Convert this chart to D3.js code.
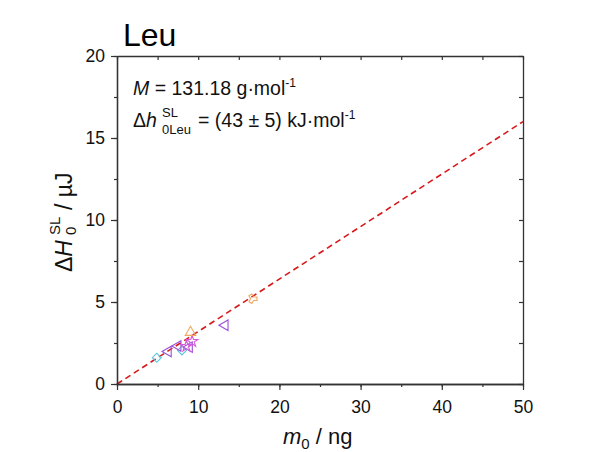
<!DOCTYPE html>
<html>
<head>
<meta charset="utf-8">
<script src="https://cdn.jsdelivr.net/npm/d3@7"></script>
<style>
  html, body { margin: 0; padding: 0; background: #fff; }
  svg { display: block; font-family: "Liberation Sans", Arial, sans-serif; }
</style>
</head>
<body>
<svg id="chart" width="600" height="452"></svg>
<script>
// Sample masses (ng) and enthalpies (µJ), one series per marker style
const cyanMass = [4.9, 8.0];
const cyanHeat = [1.6, 2.05];
const purpleMass = [6.3, 7.5, 8.9, 13.3];
const purpleHeat = [1.98, 2.32, 2.25, 3.58];
const magentaMass = [8.55, 9.25];
const magentaHeat = [2.3, 2.6];
const orangeUpMass = [9.05];
const orangeUpHeat = [3.15];
const orangeRightMass = [16.7];
const orangeRightHeat = [5.2];

// Proportional fit through the origin
const fitMass = [0, 50];
const fitHeat = [0, 16.0];

const xTicks = [0, 10, 20, 30, 40, 50];
const yTicks = [0, 5, 10, 15, 20];

const svg = d3.select("#chart");
const L = 117, R = 523, T = 56, B = 384;
const x = d3.scaleLinear().domain([0, 50]).range([L, R]);
const y = d3.scaleLinear().domain([0, 20]).range([B, T]);
const axisColor = "#333";
const textColor = "#111";

// Fit line
svg.append("path")
  .datum(fitMass.map((m, i) => [m, fitHeat[i]]))
  .attr("d", d3.line().x(d => x(d[0])).y(d => y(d[1])))
  .attr("fill", "none")
  .attr("stroke", "#d7191c")
  .attr("stroke-width", 1.6)
  .attr("stroke-dasharray", "6,4");

// Marker series
const tri = d3.symbol().type(d3.symbolTriangle).size(48)();
const series = [
  { mass: cyanMass, heat: cyanHeat, color: "#5ac6dd", path: d3.symbol().type(d3.symbolSquare).size(40)(), rot: 45 },
  { mass: purpleMass, heat: purpleHeat, color: "#9b4fd8", path: tri, rot: -90 },
  { mass: magentaMass, heat: magentaHeat, color: "#d45ad8", path: d3.symbol().type(d3.symbolStar).size(40)(), rot: 0 },
  { mass: orangeUpMass, heat: orangeUpHeat, color: "#f0a860", path: tri, rot: 0 },
  { mass: orangeRightMass, heat: orangeRightHeat, color: "#f0a860", path: d3.symbol().type(d3.symbolWye).size(40)(), rot: -90 }
];
series.forEach(s => {
  svg.append("g").selectAll("path")
    .data(s.mass.map((m, i) => [m, s.heat[i]]))
    .join("path")
    .attr("d", s.path)
    .attr("transform", d => `translate(${x(d[0])},${y(d[1])}) rotate(${s.rot})`)
    .attr("fill", "none")
    .attr("stroke", s.color)
    .attr("stroke-width", 1.1);
});

// Axes: bottom/left ticks outward, top/right ticks inward
function styleAxis(g) {
  g.select(".domain").attr("stroke", axisColor).attr("stroke-width", 1.3);
  g.selectAll(".tick line").attr("stroke", axisColor).attr("stroke-width", 1.2);
  g.selectAll("text").attr("font-size", 17.5).attr("fill", textColor)
    .attr("font-family", "Liberation Sans, Arial, sans-serif");
}
const xMinor = d3.range(0, 51, 5);
const yMinor = d3.range(0, 20.1, 2.5);

svg.append("g").attr("transform", `translate(0,${B})`)
  .call(d3.axisBottom(x).tickValues(xMinor).tickSize(3).tickFormat("").tickSizeOuter(0))
  .call(styleAxis);
svg.append("g").attr("transform", `translate(0,${B})`)
  .call(d3.axisBottom(x).tickValues(xTicks).tickSize(6).tickPadding(11).tickFormat(d3.format("d")).tickSizeOuter(0))
  .call(styleAxis);
svg.append("g").attr("transform", `translate(${L},0)`)
  .call(d3.axisLeft(y).tickValues(yMinor).tickSize(3).tickFormat("").tickSizeOuter(0))
  .call(styleAxis);
svg.append("g").attr("transform", `translate(${L},0)`)
  .call(d3.axisLeft(y).tickValues(yTicks).tickSize(6).tickPadding(6).tickFormat(d3.format("d")).tickSizeOuter(0))
  .call(styleAxis);
svg.append("g").attr("transform", `translate(0,${T})`)
  .call(d3.axisTop(x).tickValues(xMinor).tickSize(-4).tickFormat("").tickSizeOuter(0))
  .call(styleAxis);
svg.append("g").attr("transform", `translate(${R},0)`)
  .call(d3.axisRight(y).tickValues(yMinor).tickSize(-4).tickFormat("").tickSizeOuter(0))
  .call(styleAxis);

// Title
svg.append("text").attr("x", 123).attr("y", 46)
  .attr("font-size", 32).attr("fill", "#000").text("Leu");

// Annotations
const ann1 = svg.append("text").attr("x", 133).attr("y", 95).attr("font-size", 19.5).attr("fill", textColor);
ann1.append("tspan").attr("font-style", "italic").text("M");
ann1.append("tspan").text(" = 131.18 g\u00b7mol");
ann1.append("tspan").attr("font-size", 12).attr("dy", -8).text("-1");

const ann2 = svg.append("text").attr("x", 133).attr("y", 127).attr("font-size", 19.5).attr("fill", textColor);
ann2.append("tspan").text("\u0394");
ann2.append("tspan").attr("font-style", "italic").text("h");
svg.append("text").attr("x", 162).attr("y", 117).attr("font-size", 13).attr("fill", textColor).text("SL");
svg.append("text").attr("x", 162).attr("y", 134).attr("font-size", 13).attr("fill", textColor).text("0Leu");
svg.append("text").attr("x", 198).attr("y", 127).attr("font-size", 19.5).attr("fill", textColor)
  .text("= (43 \u00b1 5) kJ\u00b7mol")
  .append("tspan").attr("font-size", 12).attr("dy", -8).text("-1");

// X axis title
const xt = svg.append("text").attr("x", 283).attr("y", 444).attr("font-size", 22).attr("fill", textColor);
xt.append("tspan").attr("font-style", "italic").text("m");
xt.append("tspan").attr("font-size", 15).attr("dy", 5).text("0");
xt.append("tspan").attr("dy", -5).text(" / ng");

// Y axis title
const yt = svg.append("g").attr("transform", "translate(72,272) rotate(-90)");
const yt1 = yt.append("text").attr("x", 0).attr("y", 0).attr("font-size", 23).attr("fill", textColor);
yt1.append("tspan").text("\u0394");
yt1.append("tspan").attr("font-style", "italic").text("H");
yt.append("text").attr("x", 37).attr("y", 4).attr("font-size", 15).attr("fill", textColor).text("0");
yt.append("text").attr("x", 37).attr("y", -12).attr("font-size", 15).attr("fill", textColor).text("SL");
yt.append("text").attr("x", 62).attr("y", 0).attr("font-size", 23).attr("fill", textColor).text("/ \u00b5J");
</script>
</body>
</html>
